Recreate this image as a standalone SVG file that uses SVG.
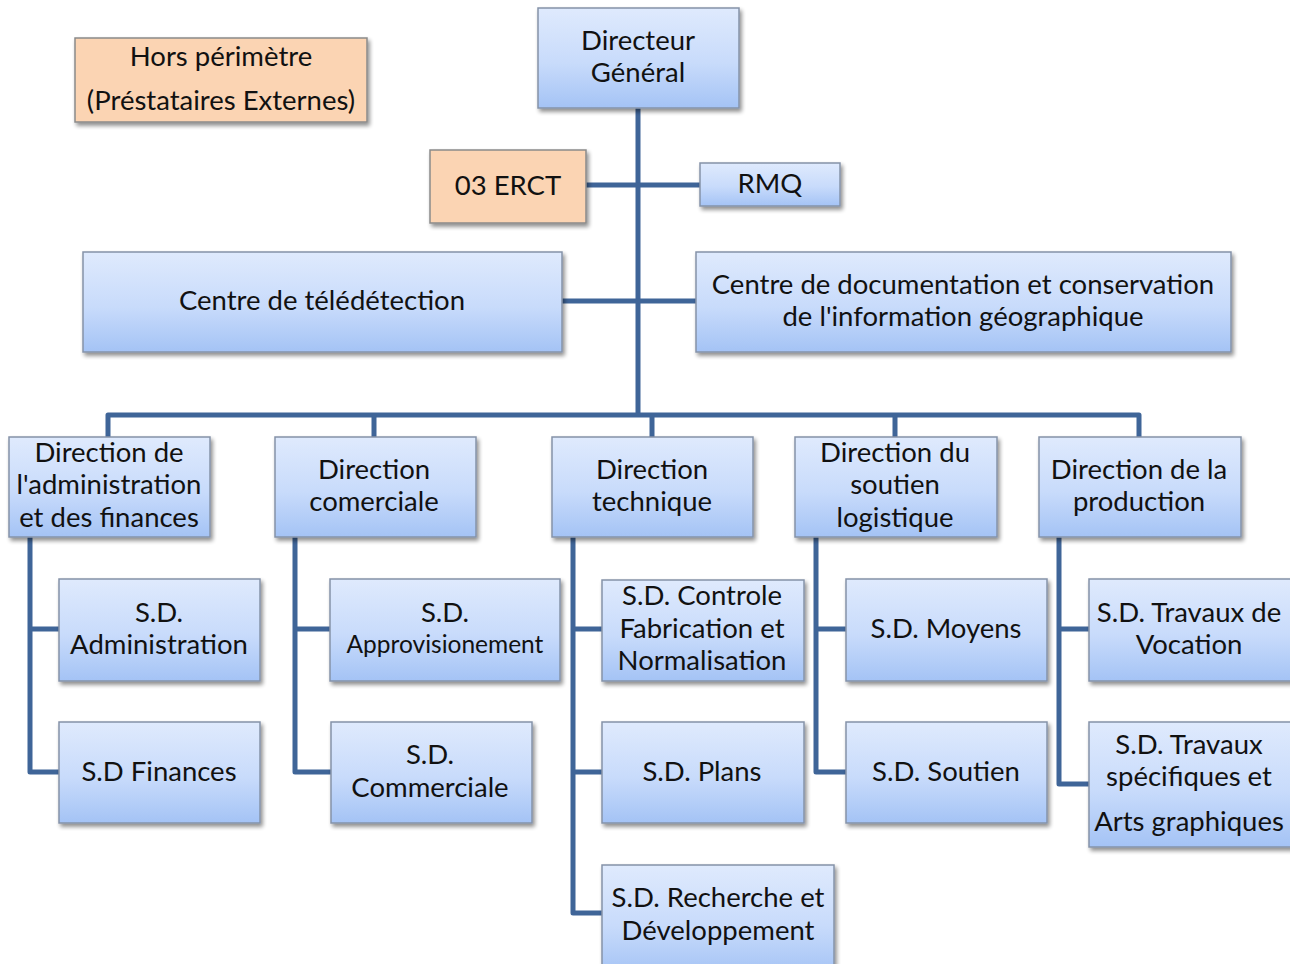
<svg xmlns="http://www.w3.org/2000/svg" width="1290" height="964" viewBox="0 0 1290 964">
  <defs>
    <linearGradient id="blueFill" x1="0" y1="0" x2="0" y2="1">
      <stop offset="0" stop-color="#dfeafd"/>
      <stop offset="0.55" stop-color="#c8dbfb"/>
      <stop offset="1" stop-color="#a4c3f5"/>
    </linearGradient>
    <filter id="shadow" x="-10%" y="-10%" width="125%" height="135%">
      <feGaussianBlur in="SourceAlpha" stdDeviation="2.2"/>
      <feOffset dx="2" dy="3" result="b"/>
      <feComponentTransfer><feFuncA type="linear" slope="0.45"/></feComponentTransfer>
      <feMerge><feMergeNode/><feMergeNode in="SourceGraphic"/></feMerge>
    </filter>
  </defs>
  <style>
    .box { fill: url(#blueFill); stroke: #8593a8; stroke-width: 1.5; filter: url(#shadow); }
    .ext { fill: #fbd4b3; stroke: #8a8a8a; stroke-width: 1.5; filter: url(#shadow); }
    .lbl { font-family: Lato, "Open Sans", "Liberation Sans", sans-serif; font-size: 27.5px; fill: #111; text-anchor: middle; }
    .sm { font-size: 24.5px; }
    .wire { fill: none; stroke: #3f6598; stroke-width: 5; stroke-linejoin: round; }
  </style>
  <rect width="1290" height="964" fill="#ffffff"/>

  <!-- connectors -->
  <g id="connectors" class="wire">
    <path d="M638 108 V415"/>
    <path d="M586 185 H700"/>
    <path d="M562 301 H696"/>
    <path d="M108 437 V415 H1139 V437"/>
    <path d="M374 415 V437 M652 415 V437 M895 415 V437"/>
    <path d="M30 537 V772 H59 M30 629 H59"/>
    <path d="M295 537 V772 H331 M295 629 H330"/>
    <path d="M573 537 V913 H602 M573 629 H602 M573 772 H602"/>
    <path d="M816 537 V772 H846 M816 629 H846"/>
    <path d="M1059 537 V784 H1089 M1059 629 H1089"/>
  </g>

  <g id="hors-perimetre">
    <rect class="ext" x="75" y="38" width="292" height="84"/>
    <text class="lbl" x="221" y="66">Hors périmètre</text>
    <text class="lbl" x="221" y="110">(Préstataires Externes)</text>
  </g>

  <g id="directeur-general">
    <rect class="box" x="538" y="8" width="201" height="100"/>
    <text class="lbl" x="638" y="50">Directeur</text>
    <text class="lbl" x="638" y="82">Général</text>
  </g>

  <g id="erct">
    <rect class="ext" x="430" y="150" width="156" height="73"/>
    <text class="lbl" x="508" y="195">03 ERCT</text>
  </g>

  <g id="rmq">
    <rect class="box" x="700" y="163" width="140" height="43"/>
    <text class="lbl" x="770" y="193">RMQ</text>
  </g>

  <g id="centre-teledetection">
    <rect class="box" x="83" y="252" width="479" height="100"/>
    <text class="lbl" x="322" y="310">Centre de télédétection</text>
  </g>

  <g id="centre-documentation">
    <rect class="box" x="696" y="252" width="535" height="100"/>
    <text class="lbl" x="963" y="294">Centre de documentation et conservation</text>
    <text class="lbl" x="963" y="326">de l'information géographique</text>
  </g>

  <g id="dir-administration">
    <rect class="box" x="9" y="437" width="201" height="100"/>
    <text class="lbl" x="109" y="462">Direction de</text>
    <text class="lbl" x="109" y="494">l'administration</text>
    <text class="lbl" x="109" y="527">et des finances</text>
  </g>

  <g id="dir-commerciale">
    <rect class="box" x="275" y="437" width="201" height="100"/>
    <text class="lbl" x="374" y="479">Direction</text>
    <text class="lbl" x="374" y="511">comerciale</text>
  </g>

  <g id="dir-technique">
    <rect class="box" x="552" y="437" width="201" height="100"/>
    <text class="lbl" x="652" y="479">Direction</text>
    <text class="lbl" x="652" y="511">technique</text>
  </g>

  <g id="dir-soutien">
    <rect class="box" x="795" y="437" width="202" height="100"/>
    <text class="lbl" x="895" y="462">Direction du</text>
    <text class="lbl" x="895" y="494">soutien</text>
    <text class="lbl" x="895" y="527">logistique</text>
  </g>

  <g id="dir-production">
    <rect class="box" x="1039" y="437" width="202" height="100"/>
    <text class="lbl" x="1139" y="479">Direction de la</text>
    <text class="lbl" x="1139" y="511">production</text>
  </g>

  <g id="sd-administration">
    <rect class="box" x="59" y="579" width="201" height="102"/>
    <text class="lbl" x="159" y="622">S.D.</text>
    <text class="lbl" x="159" y="654">Administration</text>
  </g>

  <g id="sd-finances">
    <rect class="box" x="59" y="722" width="201" height="101"/>
    <text class="lbl" x="159" y="781">S.D Finances</text>
  </g>

  <g id="sd-approvisionement">
    <rect class="box" x="330" y="579" width="230" height="102"/>
    <text class="lbl" x="445" y="622">S.D.</text>
    <text class="lbl sm" x="445" y="653">Approvisionement</text>
  </g>

  <g id="sd-commerciale">
    <rect class="box" x="331" y="722" width="201" height="101"/>
    <text class="lbl" x="430" y="764">S.D.</text>
    <text class="lbl" x="430" y="797">Commerciale</text>
  </g>

  <g id="sd-controle">
    <rect class="box" x="602" y="580" width="202" height="101"/>
    <text class="lbl" x="702" y="605">S.D. Controle</text>
    <text class="lbl" x="702" y="638">Fabrication et</text>
    <text class="lbl" x="702" y="670">Normalisation</text>
  </g>

  <g id="sd-plans">
    <rect class="box" x="602" y="722" width="202" height="101"/>
    <text class="lbl" x="702" y="781">S.D. Plans</text>
  </g>

  <g id="sd-recherche">
    <rect class="box" x="602" y="865" width="232" height="110"/>
    <text class="lbl" x="718" y="907">S.D. Recherche et</text>
    <text class="lbl" x="718" y="940">Développement</text>
  </g>

  <g id="sd-moyens">
    <rect class="box" x="846" y="579" width="201" height="102"/>
    <text class="lbl" x="946" y="638">S.D. Moyens</text>
  </g>

  <g id="sd-soutien">
    <rect class="box" x="846" y="722" width="201" height="101"/>
    <text class="lbl" x="946" y="781">S.D. Soutien</text>
  </g>

  <g id="sd-travaux-vocation">
    <rect class="box" x="1089" y="579" width="210" height="102"/>
    <text class="lbl" x="1189" y="622">S.D. Travaux de</text>
    <text class="lbl" x="1189" y="654">Vocation</text>
  </g>

  <g id="sd-travaux-specifiques">
    <rect class="box" x="1089" y="722" width="210" height="125"/>
    <text class="lbl" x="1189" y="754">S.D. Travaux</text>
    <text class="lbl" x="1189" y="786">spécifiques et</text>
    <text class="lbl" x="1189" y="831">Arts graphiques</text>
  </g>
</svg>
